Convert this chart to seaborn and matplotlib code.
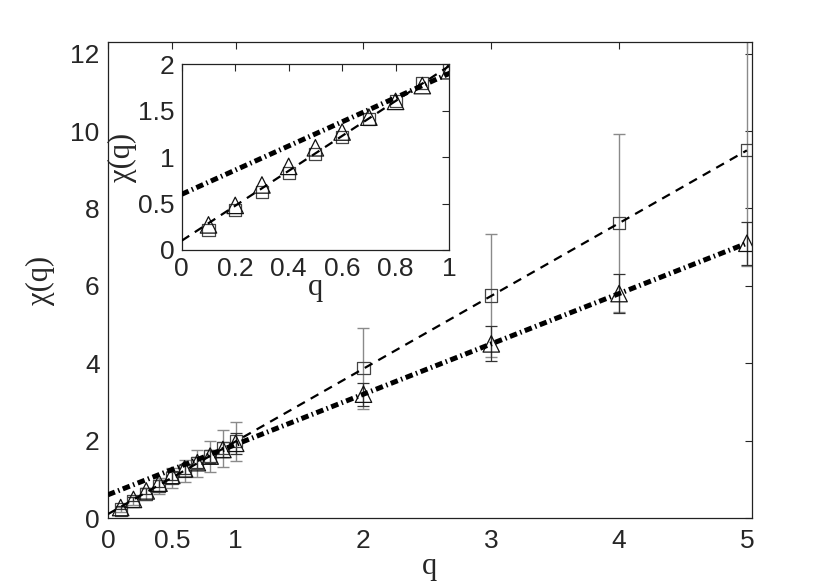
import matplotlib
matplotlib.use('Agg')
import matplotlib.pyplot as plt
import seaborn as sns
import numpy as np

# values
q = [0.1, 0.2, 0.3, 0.4, 0.5, 0.6, 0.7, 0.8, 0.9, 1.0, 2, 3, 4, 5]
chi_sq = [0.22, 0.43, 0.62, 0.83, 1.03, 1.22, 1.41, 1.60, 1.80, 1.98, 3.87, 5.75, 7.62, 9.50]
err_sq = [0.06, 0.1, 0.15, 0.2, 0.25, 0.29, 0.36, 0.40, 0.47, 0.51, 1.05, 1.6, 2.3, 3.0]
chi_tri = [0.27, 0.48, 0.70, 0.90, 1.10, 1.27, 1.43, 1.60, 1.77, 1.93, 3.20, 4.50, 5.80, 7.10]
err_tri = [0.03, 0.05, 0.07, 0.09, 0.11, 0.13, 0.15, 0.17, 0.2, 0.27, 0.3, 0.45, 0.5, 0.55]

# straight fits
fit_q = [0, 5]
fit_sq = [0.10, 9.50]
fit_tri = [0.60, 7.10]

sns.set_style('white')
plt.rcParams['font.family'] = ['Liberation Sans', 'DejaVu Sans']
plt.rcParams['font.size'] = 19
plt.rcParams['xtick.direction'] = 'in'
plt.rcParams['ytick.direction'] = 'in'

serif = ['Liberation Serif', 'DejaVu Serif']
dashdot = (0, (1.5, 0.7, 0.3, 0.7))


def draw(ax, with_err):
    if with_err:
        ax.errorbar(q, chi_sq, yerr=err_sq, fmt='none', ecolor='#8a8a8a',
                    elinewidth=1.0, capsize=4.5, capthick=1.0, zorder=1)
        ax.errorbar(q, chi_tri, yerr=err_tri, fmt='none', ecolor='#333333',
                    elinewidth=0.9, capsize=4.5, capthick=0.9, zorder=1)
    sns.scatterplot(x=q, y=chi_sq, ax=ax, marker='s', s=75, facecolor='none',
                    edgecolor='#444444', linewidth=0.9, zorder=2)
    sns.scatterplot(x=q, y=chi_tri, ax=ax, marker='^', s=140, facecolor='none',
                    edgecolor='#111111', linewidth=0.9, zorder=2)
    sns.lineplot(x=fit_q, y=fit_sq, ax=ax, color='k', lw=1.6,
                 linestyle=(0, (4, 3)), zorder=3)
    sns.lineplot(x=fit_q, y=fit_tri, ax=ax, color='k', lw=3.6,
                 linestyle=dashdot, zorder=3)
    ax.tick_params(top=True, right=True, length=5, width=0.8)
    for s in ax.spines.values():
        s.set_color('#222222')
        s.set_linewidth(0.9)


fig = plt.figure(figsize=(8.3, 5.84), dpi=100)
ax = fig.add_axes([0.130, 0.113, 0.776, 0.815])
draw(ax, True)
ax.tick_params(axis='x', pad=8)
ax.tick_params(axis='y', pad=6)
ax.set_xlim(0, 5.04)
ax.set_ylim(0, 12.3)
ax.set_xticks([0, 0.5, 1, 2, 3, 4, 5])
ax.set_xticklabels(['0', '0.5', '1', '2', '3', '4', '5'])
ax.set_yticks([0, 2, 4, 6, 8, 10, 12])
ax.set_xlabel('q', family=serif, fontsize=22, labelpad=-1)
ax.set_ylabel('χ(q)', family=serif, fontsize=22, labelpad=11)

ins = fig.add_axes([0.219, 0.572, 0.322, 0.318])
ins.set_facecolor('white')
draw(ins, False)
ins.tick_params(axis='x', pad=5)
ins.tick_params(axis='y', pad=5)
ins.set_xlim(0, 1)
ins.set_ylim(0, 2)
ins.set_xticks([0, 0.2, 0.4, 0.6, 0.8, 1])
ins.set_xticklabels(['0', '0.2', '0.4', '0.6', '0.8', '1'])
ins.set_yticks([0, 0.5, 1, 1.5, 2])
ins.set_yticklabels(['0', '0.5', '1', '1.5', '2'])
ins.set_xlabel('q', family=serif, fontsize=22, labelpad=-6)
ins.set_ylabel('χ(q)', family=serif, fontsize=22, labelpad=1)

fig.savefig('out.png', dpi=100)
